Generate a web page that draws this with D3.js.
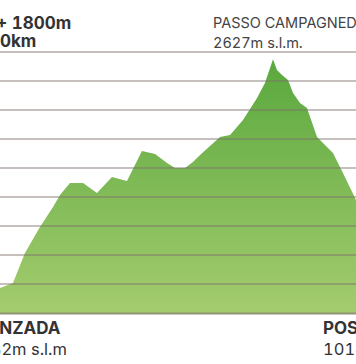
<!DOCTYPE html>
<html><head><meta charset="utf-8">
<script src="https://cdn.jsdelivr.net/npm/d3@7"></script>
<style>html,body{margin:0;padding:0;background:#fff;overflow:hidden}svg{display:block}text{font-variant-numeric:tabular-nums}</style>
</head><body>
<script>
// profile: distance (km) and elevation (m)
const distanceKm = [0,1.08,2.08,3.33,4.42,5.0,5.83,6.92,8.08,9.33,10.58,11.83,12.92,13.92,14.58,15.42,16.08,16.67,18.33,19.17,20.25,21.42,22.08,22.75,23.08,23.5,24.0,24.42,25.0,25.58,26.42,27.33,27.75,28.58,29.67];
const elevationM = [980,1016,1232,1419,1564,1650,1736,1736,1664,1780,1751,1967,1945,1880,1844,1844,1888,1938,2068,2082,2190,2349,2457,2627,2550,2514,2478,2385,2313,2277,2068,1989,1953,1808,1614];
const gridLevels = 9;
const statLabels = ["D+ 1800m", "30km"];
const startLabels = ["LANZADA", "982m s.l.m"];
const peakLabels = ["PASSO CAMPAGNEDA", "2627m s.l.m."];
const endLabels = ["POSCHIAVO", "1014m s.l.m."];

const W = 356, H = 364;
const svg = d3.select("body").append("svg").attr("width", W).attr("height", H);
const x = d3.scaleLinear().domain([0, 30]).range([0, 360]);
const y = d3.scaleLinear().domain([800, 2680]).range([313, 52]);

const defs = svg.append("defs");
const g = defs.append("linearGradient").attr("id","grad")
  .attr("gradientUnits","userSpaceOnUse").attr("y1",60).attr("y2",313).attr("x1",0).attr("x2",0);
g.append("stop").attr("offset",0).attr("stop-color","#5aa83e");
g.append("stop").attr("offset",1).attr("stop-color","#a4cc6e");

const data = distanceKm.map((d,i)=>({d, e: elevationM[i]}));
const area = d3.area().x(p=>x(p.d)).y0(y(800)).y1(p=>y(p.e));
svg.append("path").datum(data).attr("d", area).attr("fill","url(#grad)");

const step = (2680-800)/gridLevels;
const ticks = d3.range(1, gridLevels+1).map(i => 800 + i*step);
svg.append("g").selectAll("line").data(ticks).join("line")
  .attr("x1",0).attr("x2",W).attr("y1",d=>y(d)).attr("y2",d=>y(d))
  .attr("stroke","#7d6f6c").attr("stroke-opacity",0.6).attr("stroke-width",1.5);
svg.append("line").attr("x1",0).attr("x2",W).attr("y1",y(800)+0.5).attr("y2",y(800)+0.5)
  .attr("stroke","#8f9474").attr("stroke-width",2);

const font = "Inter, 'Liberation Sans', sans-serif";
function label(txt, xx, yy, size, weight, color, anchor){
  svg.append("text").attr("x",xx).attr("y",yy).attr("font-family",font).attr("font-size",size)
    .attr("font-weight",weight).attr("fill",color).attr("text-anchor",anchor||"start").text(txt);
}
label(statLabels[0], -16, 29, 17, 700, "#333");
label(statLabels[1], -11, 47, 17, 700, "#333");
label(peakLabels[0], 213, 28, 14.5, 400, "#444");
label(peakLabels[1], 213, 48, 14.5, 400, "#444");
label(startLabels[0], -23, 334, 17, 700, "#333");
label(startLabels[1], -20, 355, 16.5, 400, "#333");
label(endLabels[0], 323, 334, 17, 700, "#333");
label(endLabels[1], 323, 355, 16.5, 400, "#333");
</script>
</body></html>
